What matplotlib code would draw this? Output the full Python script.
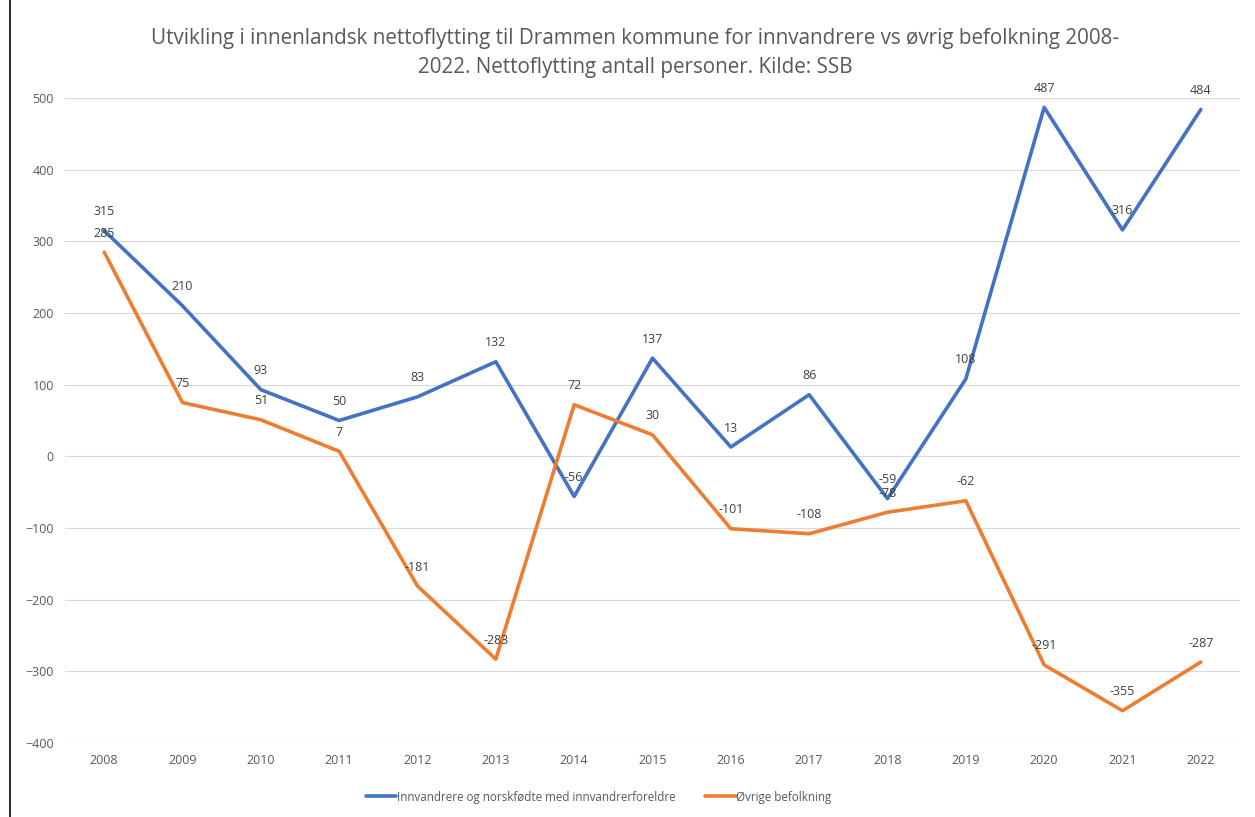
import matplotlib.pyplot as plt
from matplotlib.lines import Line2D

years = [str(y) for y in range(2008, 2023)]
innvandrere = [315, 210, 93, 50, 83, 132, -56, 137, 13, 86, -59, 108, 487, 316, 484]
ovrige = [285, 75, 51, 7, -181, -283, 72, 30, -101, -108, -78, -62, -291, -355, -287]

blue = "#4472C4"
orange = "#ED7D31"
grey = "#595959"

plt.rcParams["font.family"] = ["Open Sans", "DejaVu Sans"]

fig = plt.figure(figsize=(12.55, 8.17), dpi=100)
ax = fig.add_axes([65 / 1255, 1 - 743 / 817, 1175 / 1255, 645 / 817])

x = range(len(years))
ax.plot(x, innvandrere, color=blue, linewidth=2.6, solid_capstyle="round",
        label="Innvandrere og norskfødte med innvandrerforeldre")
ax.plot(x, ovrige, color=orange, linewidth=2.6, solid_capstyle="round",
        label="Øvrige befolkning")

for series in (innvandrere, ovrige):
    for i, v in enumerate(series):
        ax.annotate(str(v), (i, v), xytext=(0, 9), textcoords="offset points",
                    ha="center", va="bottom", fontsize=9, color="#404040")

ax.set_xlim(-0.5, len(years) - 0.5)
ax.set_ylim(-400, 500)
ax.set_yticks(range(-400, 501, 100))
ax.set_xticks(list(x))
ax.set_xticklabels(years)
ax.tick_params(length=0, labelsize=9, colors=grey, pad=8)
ax.grid(axis="y", color="#d9d9d9", linewidth=0.8)
ax.set_axisbelow(True)
for s in ax.spines.values():
    s.set_visible(False)

fig.text(0.506, 1 - 53 / 817,
         "Utvikling i innenlandsk nettoflytting til Drammen kommune for innvandrere vs øvrig befolkning 2008-\n"
         "2022. Nettoflytting antall personer. Kilde: SSB",
         ha="center", va="center", fontsize=14.9, color=grey, linespacing=1.5)

fig.legend(loc="center", bbox_to_anchor=(0.477, 1 - 797 / 817), ncol=2, frameon=False,
           fontsize=8.4, labelcolor=grey, handlelength=2.6, handletextpad=0.05,
           columnspacing=2.6)

fig.add_artist(Line2D([10 / 1255, 10 / 1255], [0, 1], color="black", linewidth=1.2))

fig.savefig("out.png", dpi=100, facecolor="white")
